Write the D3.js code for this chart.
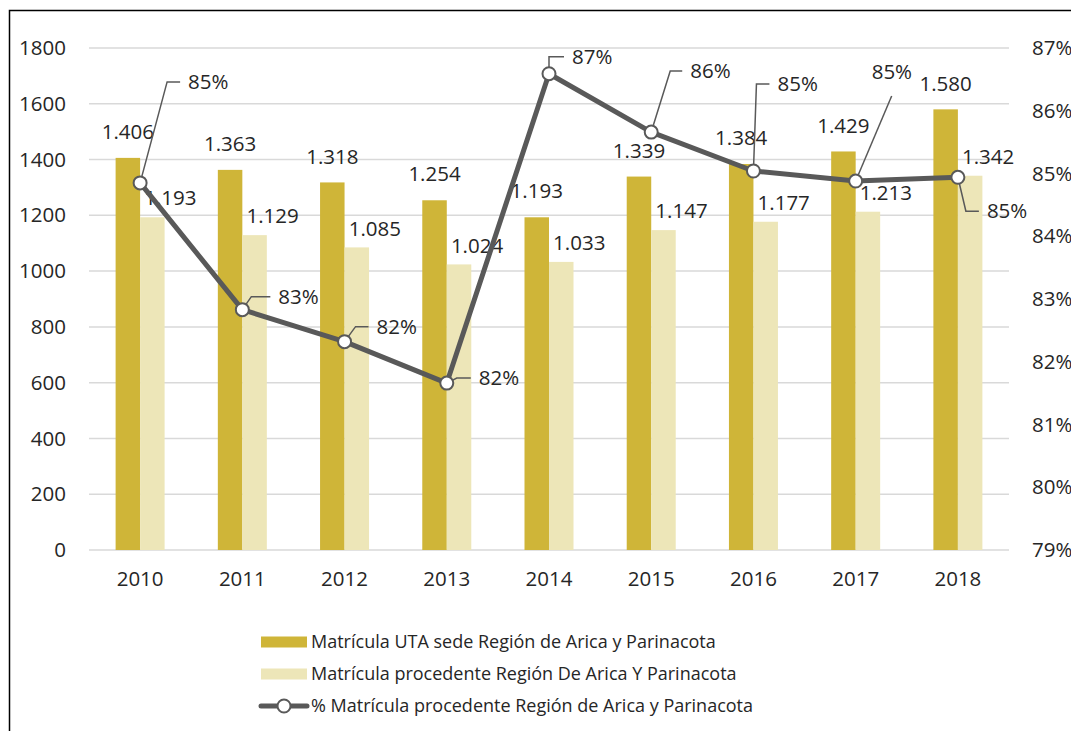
<!DOCTYPE html>
<html>
<head>
<meta charset="utf-8">
<script src="https://cdn.jsdelivr.net/npm/d3@7"></script>
<style>
  body { margin: 0; background: #fff; }
  svg text { font-family: "Open Sans", sans-serif; fill: #262626; }
</style>
</head>
<body>
<div id="chart"></div>
<script>
// data
const years = ['2010', '2011', '2012', '2013', '2014', '2015', '2016', '2017', '2018'];
const matriculaUTA = [1406, 1363, 1318, 1254, 1193, 1339, 1384, 1429, 1580];
const matriculaProcedente = [1193, 1129, 1085, 1024, 1033, 1147, 1177, 1213, 1342];
const pctProcedente = [84.85, 82.83, 82.32, 81.66, 86.59, 85.66, 85.04, 84.88, 84.94];
const leftTicks = [0, 200, 400, 600, 800, 1000, 1200, 1400, 1600, 1800];
const rightTicks = [79, 80, 81, 82, 83, 84, 85, 86, 87];
const seriesNames = [
  'Matrícula UTA sede Región de Arica y Parinacota',
  'Matrícula procedente Región De Arica Y Parinacota',
  '% Matrícula procedente Región de Arica y Parinacota'
];

// callout placement for the % labels (text start dx, text centre dy, leader elbow)
const pctCallouts = [
  { tx: 48, ty: -101, elbow: [27, -101] },
  { tx: 36, ty: -13, elbow: [9, -13] },
  { tx: 32, ty: -15, elbow: [11, -15] },
  { tx: 32, ty: -5, elbow: [10, -5] },
  { tx: 23, ty: -17, elbow: [0, -17] },
  { tx: 39, ty: -61, elbow: [19, -61] },
  { tx: 24, ty: -87, elbow: [3, -87] },
  { tx: 16, ty: -109, elbow: null, end: [36, -85] },
  { tx: 29, ty: 34, elbow: [8, 34] }
];

const width = 1071;
const height = 731;
const colUTA = '#CFB538';
const colProc = '#EDE6B8';
const colLine = '#595959';
const fontSize = 20.5;
const legendFontSize = 18;

const svg = d3
  .select('#chart')
  .append('svg')
  .attr('width', width)
  .attr('height', height);

// outer frame
svg
  .append('rect')
  .attr('x', 9.5)
  .attr('y', 10.5)
  .attr('width', 1200)
  .attr('height', 1000)
  .attr('fill', 'none')
  .attr('stroke', '#000')
  .attr('stroke-width', 1.5);

const x = d3.scaleBand().domain(years).range([89, 1009]);
const xs = d3.scaleBand().domain([0, 1]).range([-24.5, 24.5]);
const y = d3.scaleLinear().domain([0, 1800]).range([550, 48]);
const y2 = d3.scaleLinear().domain([79, 87]).range([550, 48]);
const cx = (i) => x(years[i]) + x.bandwidth() / 2;

// gridlines
svg
  .append('g')
  .selectAll('line')
  .data(leftTicks)
  .join('line')
  .attr('x1', 89)
  .attr('x2', 1009)
  .attr('y1', (d) => y(d))
  .attr('y2', (d) => y(d))
  .attr('stroke', '#d9d9d9')
  .attr('stroke-width', 1.5);

// left axis
const yAxis = svg
  .append('g')
  .attr('transform', 'translate(66,0)')
  .call(d3.axisLeft(y).tickValues(leftTicks).tickSize(0).tickPadding(0).tickFormat(d3.format('d')));
yAxis.select('.domain').remove();
yAxis.selectAll('text').attr('font-size', fontSize).attr('font-family', null).attr('fill', '#262626');

// right axis
const yAxis2 = svg
  .append('g')
  .attr('transform', 'translate(1032,0)')
  .call(d3.axisRight(y2).tickValues(rightTicks).tickSize(0).tickPadding(0).tickFormat((d) => d + '%'));
yAxis2.select('.domain').remove();
yAxis2.selectAll('text').attr('font-size', fontSize).attr('font-family', null).attr('fill', '#262626');

// x axis
const xAxis = svg
  .append('g')
  .attr('transform', 'translate(0,571)')
  .call(d3.axisBottom(x).tickSize(0).tickPadding(0));
xAxis.select('.domain').remove();
xAxis.selectAll('text').attr('font-size', fontSize).attr('font-family', null).attr('fill', '#262626').attr('dy', '0.71em');

// bars
const barData = years.map((yr, i) => [
  { i, s: 0, v: matriculaUTA[i] },
  { i, s: 1, v: matriculaProcedente[i] }
]).flat();

svg
  .append('g')
  .selectAll('rect')
  .data(barData)
  .join('rect')
  .attr('x', (d) => cx(d.i) + xs(d.s))
  .attr('y', (d) => y(d.v))
  .attr('width', xs.bandwidth())
  .attr('height', (d) => y(0) - y(d.v))
  .attr('fill', (d) => (d.s === 0 ? colUTA : colProc));

// bar value labels
const fmtThousands = (v) => d3.format(',')(v).replace(',', '.');
svg
  .append('g')
  .selectAll('text')
  .data(barData)
  .join('text')
  .attr('x', (d) => cx(d.i) + xs(d.s) + xs.bandwidth() / 2 + (d.s === 1 ? 18 : 0))
  .attr('y', (d) => y(d.v) - (d.s === 0 ? 26 : 19))
  .attr('dy', '0.35em')
  .attr('text-anchor', 'middle')
  .attr('font-size', fontSize)
  .text((d) => fmtThousands(d.v));

// line
const line = d3
  .line()
  .x((d, i) => cx(i))
  .y((d) => y2(d));

svg
  .append('path')
  .datum(pctProcedente)
  .attr('fill', 'none')
  .attr('stroke', colLine)
  .attr('stroke-width', 5)
  .attr('stroke-linejoin', 'round')
  .attr('d', line);

// callout leaders
const leaderGroup = svg.append('g');
pctProcedente.forEach((v, i) => {
  const px = cx(i);
  const py = y2(v);
  const c = pctCallouts[i];
  let pts;
  if (c.elbow) {
    pts = [[px, py], [px + c.elbow[0], py + c.elbow[1]], [px + c.tx - 8, py + c.ty]];
  } else {
    pts = [[px, py], [px + c.end[0], py + c.end[1]]];
  }
  leaderGroup
    .append('path')
    .attr('d', d3.line()(pts))
    .attr('fill', 'none')
    .attr('stroke', colLine)
    .attr('stroke-width', 1.5);
});

// markers
svg
  .append('g')
  .selectAll('circle')
  .data(pctProcedente)
  .join('circle')
  .attr('cx', (d, i) => cx(i))
  .attr('cy', (d) => y2(d))
  .attr('r', 6.5)
  .attr('fill', '#fff')
  .attr('stroke', colLine)
  .attr('stroke-width', 2);

// % labels
svg
  .append('g')
  .selectAll('text')
  .data(pctProcedente)
  .join('text')
  .attr('x', (d, i) => cx(i) + pctCallouts[i].tx)
  .attr('y', (d, i) => y2(d) + pctCallouts[i].ty)
  .attr('dy', '0.35em')
  .attr('font-size', fontSize)
  .text((d) => Math.round(d) + '%');

// legend
const legend = svg.append('g').attr('transform', 'translate(261,0)');
const legendY = [642, 674, 706];

legend
  .append('rect')
  .attr('x', 0)
  .attr('y', legendY[0] - 5.5)
  .attr('width', 46)
  .attr('height', 11)
  .attr('fill', colUTA);
legend
  .append('rect')
  .attr('x', 0)
  .attr('y', legendY[1] - 5.5)
  .attr('width', 46)
  .attr('height', 11)
  .attr('fill', colProc);
legend
  .append('line')
  .attr('x1', 0)
  .attr('x2', 46)
  .attr('y1', legendY[2])
  .attr('y2', legendY[2])
  .attr('stroke', colLine)
  .attr('stroke-width', 5)
  .attr('stroke-linecap', 'round');
legend
  .append('circle')
  .attr('cx', 23)
  .attr('cy', legendY[2])
  .attr('r', 6.5)
  .attr('fill', '#fff')
  .attr('stroke', colLine)
  .attr('stroke-width', 2);

legend
  .selectAll('text')
  .data(seriesNames)
  .join('text')
  .attr('x', 50)
  .attr('y', (d, i) => legendY[i])
  .attr('dy', '0.35em')
  .attr('font-size', legendFontSize)
  .text((d) => d);
</script>
</body>
</html>
